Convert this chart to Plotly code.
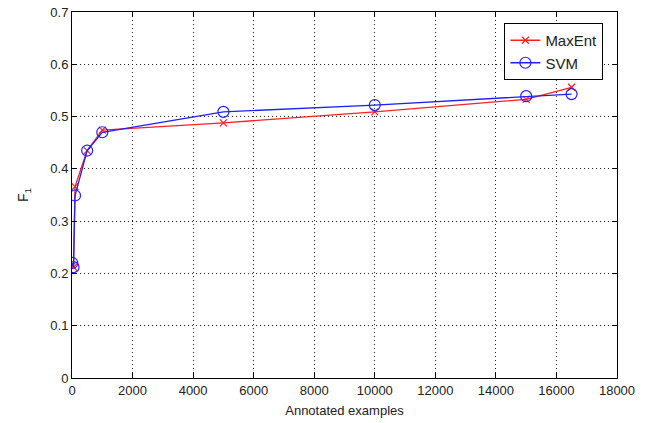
import plotly.graph_objects as go

x_vals = [10, 50, 100, 500, 1000, 5000, 10000, 15000, 16500]
maxent_f1 = [0.215, 0.212, 0.366, 0.435, 0.474, 0.488, 0.509, 0.533, 0.556]
svm_f1 = [0.220, 0.212, 0.349, 0.435, 0.470, 0.509, 0.522, 0.539, 0.543]

x_ticks = [0, 2000, 4000, 6000, 8000, 10000, 12000, 14000, 16000, 18000]
y_ticks = [0, 0.1, 0.2, 0.3, 0.4, 0.5, 0.6, 0.7]

fig = go.Figure()
fig.add_trace(go.Scatter(
    x=x_vals, y=maxent_f1, name="MaxEnt", mode="lines+markers",
    line=dict(color="#ff2020", width=1.3),
    marker=dict(symbol="x-thin-open", size=7, color="#ff2020",
                line=dict(color="#ff2020", width=1.2)),
))
fig.add_trace(go.Scatter(
    x=x_vals, y=svm_f1, name="SVM", mode="lines+markers",
    line=dict(color="#2020ff", width=1.3),
    marker=dict(symbol="circle-open", size=11, color="#2020ff",
                line=dict(color="#2020ff", width=1.2)),
))

font_family = "Liberation Sans Narrow, Liberation Sans, Arial"
axis_common = dict(
    showline=True, linecolor="black", linewidth=1, mirror="ticks",
    ticks="inside", ticklen=5, tickcolor="black",
    showgrid=True, gridcolor="#222", griddash="1px,3px", gridwidth=1,
    zeroline=False, automargin=False,
    tickfont=dict(family=font_family, size=13, color="#222"),
)
fig.update_xaxes(range=[0, 18000], tickvals=x_ticks, ticktext=[str(v) for v in x_ticks],
                 title=dict(text="Annotated examples", font=dict(family=font_family, size=13, color="#222"), standoff=9),
                 **axis_common)
fig.update_yaxes(range=[0, 0.7], tickvals=y_ticks, ticktext=["0", "0.1", "0.2", "0.3", "0.4", "0.5", "0.6", "0.7"],
                 title=dict(text="F<sub>1</sub>", font=dict(family=font_family, size=14, color="#222"), standoff=18),
                 **axis_common)

fig.update_layout(
    width=654, height=423,
    margin=dict(l=72, r=37, t=12, b=45),
    paper_bgcolor="white", plot_bgcolor="white",
    showlegend=True,
    legend=dict(x=0.975, y=0.97, xanchor="right", yanchor="top",
                bgcolor="white", bordercolor="black", borderwidth=1,
                font=dict(family="Liberation Sans, Arial", size=15, color="#222")),
)

fig.write_html("out.html", config={"displayModeBar": False},
               post_script="document.body.style.margin='0';")
